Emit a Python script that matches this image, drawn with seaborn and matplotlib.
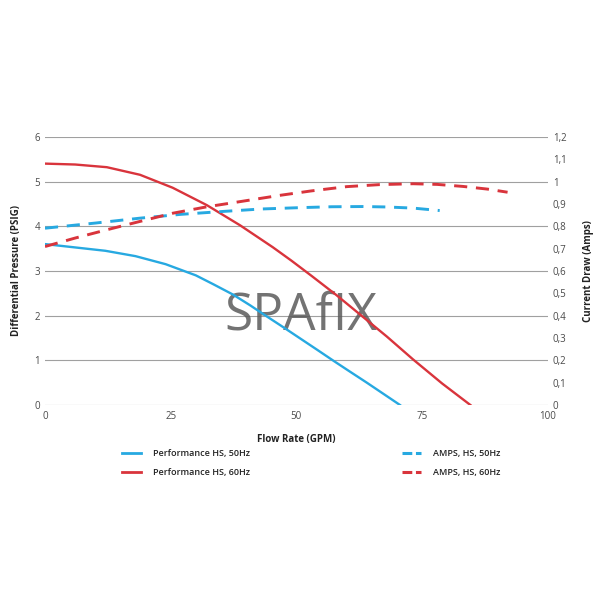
import numpy as np
import matplotlib
matplotlib.use("Agg")
import matplotlib.pyplot as plt
from matplotlib.lines import Line2D
import seaborn as sns

# flow rate (GPM) vs differential pressure (PSIG)
flow_50 = [0, 5.6, 12, 18, 24, 30, 33.5, 37.4, 40.8, 44, 47.4, 51, 54, 57.5, 60.6, 64, 67.5, 70.6]
psi_50 = [3.6, 3.53, 3.45, 3.33, 3.15, 2.9, 2.7, 2.47, 2.23, 1.99, 1.74, 1.47, 1.245, 0.98, 0.75, 0.5, 0.235, 0.0]
flow_60 = [0, 6, 12.3, 18.9, 25.4, 32.2, 38.8, 45.3, 49, 53, 58, 62.6, 68, 73.2, 79, 84.6]
psi_60 = [5.4, 5.38, 5.32, 5.15, 4.86, 4.47, 4.02, 3.53, 3.23, 2.89, 2.455, 2.03, 1.53, 1.02, 0.48, 0.0]

# flow rate vs current draw (Amps)
flow_a50 = [0, 10, 18.9, 27, 35.4, 43, 50.7, 57, 63.3, 68, 73.2, 78.5]
amps_50 = [0.791, 0.814, 0.836, 0.853, 0.866, 0.877, 0.883, 0.887, 0.888, 0.886, 0.881, 0.87]
flow_a60 = [0, 6, 12.3, 19, 25.4, 32, 38.8, 46.7, 53, 60, 66.5, 73.2, 78, 83.1, 88, 92]
amps_60 = [0.709, 0.747, 0.784, 0.822, 0.858, 0.886, 0.91, 0.938, 0.958, 0.977, 0.986, 0.99, 0.987, 0.978, 0.966, 0.952]

BLUE = "#27a9e1"
RED = "#d9343c"

plt.rcParams["font.family"] = ["Open Sans", "DejaVu Sans"]

fig = plt.figure(figsize=(6, 6), dpi=100)
ax = fig.add_axes([0.075, 0.325, 0.838, 0.447])
ax2 = ax.twinx()

# watermark sits under the curves
ax.text(0.502, 0.45, "SPAfIX", fontsize=37, color="#5a5a5a", alpha=0.85,
        ha="center", va="baseline", transform=fig.transFigure, zorder=1.5)

sns.lineplot(x=flow_50, y=psi_50, ax=ax, color=BLUE, lw=1.7, zorder=3)
sns.lineplot(x=flow_60, y=psi_60, ax=ax, color=RED, lw=1.7, zorder=3)
sns.lineplot(x=flow_a50, y=amps_50, ax=ax2, color=BLUE, lw=2.1, linestyle=(0, (4.5, 3)))
sns.lineplot(x=flow_a60, y=amps_60, ax=ax2, color=RED, lw=2.1, linestyle=(0, (4.5, 3)))

ax.set_xlim(0, 100)
ax.set_ylim(0, 6)
ax2.set_ylim(0, 1.2)
ax.set_xticks([0, 25, 50, 75, 100])
ax.set_yticks(range(7))
amp_ticks = np.round(np.arange(0, 1.21, 0.1), 1)
ax2.set_yticks(amp_ticks)
ax2.set_yticklabels([("%g" % t).replace(".", ",") for t in amp_ticks])

ax.grid(axis="y", color="#a0a0a0", lw=0.8)
ax.set_axisbelow(True)
for a in (ax, ax2):
    for s in a.spines.values():
        s.set_visible(False)
    a.tick_params(length=0, labelsize=7, colors="#4a4a4a")
ax.tick_params(axis="x", pad=4)

ax.set_xlabel("Flow Rate (GPM)", fontsize=7, fontweight="bold", labelpad=9, color="#222222")
ax.set_ylabel("Differential Pressure (PSIG)", fontsize=7, fontweight="bold", labelpad=9, color="#222222")
ax2.set_ylabel("Current Draw (Amps)", fontsize=7, fontweight="bold", labelpad=12, color="#222222")

h_perf = [Line2D([], [], color=BLUE, lw=2), Line2D([], [], color=RED, lw=2)]
h_amps = [Line2D([], [], color=BLUE, lw=2.2, linestyle=(0, (3.2, 1.2))),
          Line2D([], [], color=RED, lw=2.2, linestyle=(0, (3.2, 1.2)))]
leg_font = {"size": 6.5, "weight": 600}
fig.legend(h_perf, ["Performance HS, 50Hz", "Performance HS, 60Hz"],
           loc="upper left", bbox_to_anchor=(0.19, 0.265), frameon=False,
           prop=leg_font, handlelength=2.1, labelspacing=1.1, handletextpad=1.3,
           labelcolor="#222222")
fig.legend(h_amps, ["AMPS, HS, 50Hz", "AMPS, HS, 60Hz"],
           loc="upper left", bbox_to_anchor=(0.657, 0.265), frameon=False,
           prop=leg_font, handlelength=2.1, labelspacing=1.1, handletextpad=1.3,
           labelcolor="#222222")

fig.savefig("out.png", dpi=100)
